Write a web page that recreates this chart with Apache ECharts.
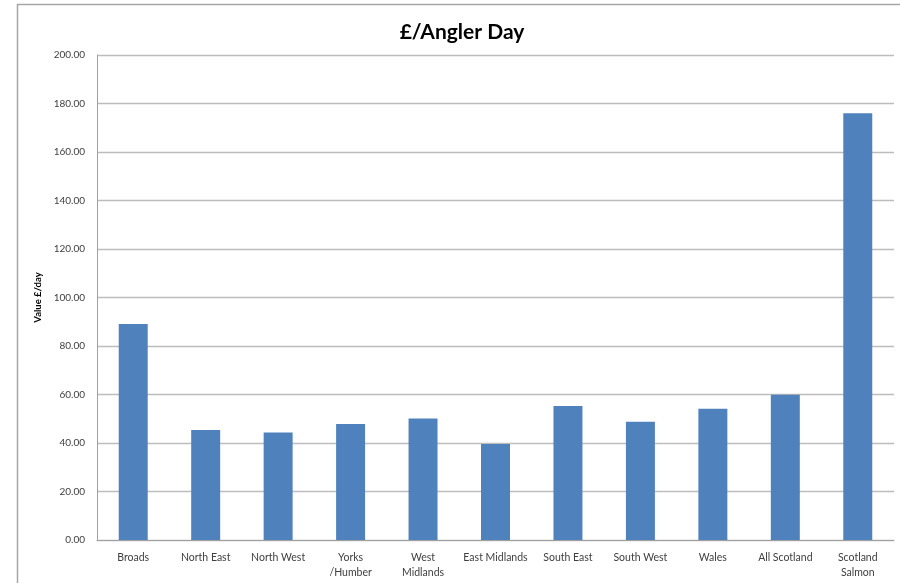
<!DOCTYPE html>
<html>
<head>
<meta charset="utf-8">
<script src="https://cdn.jsdelivr.net/npm/echarts@6/dist/echarts.min.js"></script>
<style>html,body{margin:0;padding:0;background:#fff;}#c{width:900px;height:583px;}</style>
</head>
<body>
<div id="c"></div>
<script>
var categories = ['Broads', 'North East', 'North West', 'Yorks\n/Humber', 'West\nMidlands', 'East Midlands', 'South East', 'South West', 'Wales', 'All Scotland', 'Scotland\nSalmon'];
var values = [89.1, 45.4, 44.3, 47.8, 50.1, 39.6, 55.3, 48.8, 54.1, 59.9, 176.0];
var chart = echarts.init(document.getElementById('c'));
chart.setOption({
  animation: false,
  backgroundColor: '#fff',
  title: {
    text: '£/Angler Day', left: 457, top: 17, textAlign: 'center',
    textStyle: {fontFamily: 'Lato', fontWeight: 'bold', fontSize: 21, color: '#000'}
  },
  graphic: [{
    type: 'rect', shape: {x: 17.5, y: 4.5, width: 900, height: 600},
    style: {fill: 'none', stroke: '#a6a6a6', lineWidth: 1.5}, silent: true
  }],
  grid: {left: 97, right: 6, top: 55, bottom: 43},
  xAxis: {
    type: 'category', data: categories,
    axisLine: {lineStyle: {color: '#a0a0a0', width: 1}},
    axisTick: {show: false},
    axisLabel: {interval: 0, fontFamily: 'Lato', fontSize: 10.5, color: '#404040', margin: 10, lineHeight: 15}
  },
  yAxis: {
    type: 'value', min: 0, max: 200, interval: 20,
    name: 'Value £/day', nameLocation: 'middle', nameGap: 50, nameRotate: 90,
    nameTextStyle: {fontFamily: 'Lato', fontWeight: 'bold', fontSize: 9.5, color: '#000'},
    axisLine: {show: true, lineStyle: {color: '#a0a0a0', width: 1}},
    axisTick: {show: false},
    splitLine: {lineStyle: {color: '#bdbdbd', width: 1.3}},
    axisLabel: {fontFamily: 'Lato', fontSize: 10, color: '#404040', margin: 12,
      formatter: function (v) { return v.toFixed(2); }}
  },
  series: [{
    type: 'bar', data: values, barWidth: '40%',
    itemStyle: {color: '#4f81bd'}
  }]
});
</script>
</body>
</html>
